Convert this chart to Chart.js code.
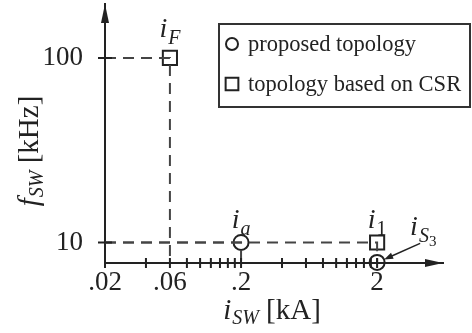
<!DOCTYPE html>
<html>
<head>
<meta charset="utf-8">
<script src="https://cdn.jsdelivr.net/npm/chart.js@4/dist/chart.umd.min.js"></script>
<style>
  html, body { margin: 0; padding: 0; background: #fff; }
  #wrap { width: 472px; height: 333px; }
</style>
</head>
<body>
<div id="wrap"><canvas id="chart"></canvas></div>
<script>
// operating points: switched current i_SW [kA] vs switching frequency f_SW [kHz]
const pointSubs = ['F', 'a', '1', 'S'];
const pointSubSubs = ['', '', '', '3'];
const currents = [0.06, 0.2, 2, 2];
const freqs = [100, 10, 10, 7.8];
const topology = ['csr', 'proposed', 'csr', 'proposed'];
const guided = [true, true, true, false];

const legendNames = ['proposed topology', 'topology based on CSR'];
const xLabeled = [0.02, 0.06, 0.2, 2];
const xMinor = [0.04, 0.08, 0.1, 0.12, 0.14, 0.16, 0.18, 0.4, 0.6, 0.8, 1, 1.2, 1.4, 1.6, 1.8];
const yLabeled = [10, 100];

const X_MIN = 0.02, X_MAX = 6.1, Y_MIN = 7.74, Y_MAX = 196;
const INK = '#222';
const SERIF = '"Liberation Serif", "Times New Roman", serif';
const roman = s => `${s}px ${SERIF}`;
const italic = s => `italic ${s}px ${SERIF}`;

// label placement around each point: dx to label centre (or left edge), dy to baseline
const labelPlace = [
  { dx: 0, dy: -21, align: 'center' },
  { dx: 0, dy: -14, align: 'center' },
  { dx: 0, dy: -14, align: 'center' },
  { dx: 33, dy: -27, align: 'left' },
];

function drawRich(ctx, parts, x, y, align) {
  let w = 0;
  parts.forEach(p => { ctx.font = p.font; p.w = ctx.measureText(p.t).width; w += p.w + (p.kern || 0); });
  let cx = align === 'center' ? x - w / 2 : x;
  ctx.textAlign = 'left';
  ctx.textBaseline = 'alphabetic';
  parts.forEach(p => {
    ctx.font = p.font;
    ctx.fillText(p.t, cx + (p.kern || 0), y + (p.dy || 0));
    cx += p.w + (p.kern || 0);
  });
}

function pts(kind) {
  return currents.map((x, i) => ({ x, y: freqs[i], k: topology[i] })).filter(p => p.k === kind);
}

const guideSets = currents.map((x, i) => guided[i] ? {
  label: '',
  data: [{ x: X_MIN, y: freqs[i] }, { x, y: freqs[i] }, { x, y: Y_MIN }],
  showLine: true,
  borderColor: '#444',
  borderWidth: 2,
  borderDash: [11, 7],
  pointRadius: 0,
} : null).filter(Boolean);

const markerSets = [
  {
    label: legendNames[0],
    data: pts('proposed'),
    pointStyle: 'circle',
    pointRadius: 7.5,
    pointBorderWidth: 2,
    borderColor: INK,
    backgroundColor: 'rgba(0,0,0,0)',
  },
  {
    label: legendNames[1],
    data: pts('csr'),
    pointStyle: 'rect',
    pointRadius: 10,
    pointBorderWidth: 2,
    borderColor: INK,
    backgroundColor: 'rgba(0,0,0,0)',
  },
];

function arrowHead(ctx, x, y, ang, len, half) {
  ctx.save();
  ctx.translate(x, y);
  ctx.rotate(ang);
  ctx.beginPath();
  ctx.moveTo(0, 0);
  ctx.lineTo(-len, -half);
  ctx.lineTo(-len, half);
  ctx.closePath();
  ctx.fill();
  ctx.restore();
}

const decor = {
  id: 'decor',
  afterDraw(chart) {
    const { ctx, chartArea: a, scales: { x, y } } = chart;
    ctx.save();
    ctx.strokeStyle = INK;
    ctx.fillStyle = INK;
    ctx.lineWidth = 2;

    // tick marks crossing the axes
    ctx.beginPath();
    x.ticks.forEach(t => {
      const px = x.getPixelForValue(t.value);
      ctx.moveTo(px, a.bottom - 5);
      ctx.lineTo(px, a.bottom + 5);
    });
    y.ticks.forEach(t => {
      const py = y.getPixelForValue(t.value);
      ctx.moveTo(a.left - 7, py);
      ctx.lineTo(a.left + 7, py);
    });
    ctx.stroke();

    // axis arrows
    arrowHead(ctx, a.left, a.top, -Math.PI / 2, 19, 4);
    arrowHead(ctx, a.right, a.bottom, 0, 18, 4);

    // point labels
    currents.forEach((cv, i) => {
      const px = x.getPixelForValue(cv), py = y.getPixelForValue(freqs[i]);
      const pl = labelPlace[i];
      const sub = pointSubs[i];
      const parts = [
        { t: 'i', font: italic(28) },
        { t: sub, font: /\d/.test(sub) ? roman(20) : italic(20), dy: 7, kern: 1 },
      ];
      if (pointSubSubs[i]) parts.push({ t: pointSubSubs[i], font: roman(15), dy: 11 });
      drawRich(ctx, parts, px + pl.dx, py + pl.dy, pl.align);
    });

    // pointer from the i_S3 label to its marker
    const ix = currents.length - 1;
    const sx = x.getPixelForValue(currents[ix]), sy = y.getPixelForValue(freqs[ix]);
    const x0 = sx + 43, y0 = sy - 19, x1 = sx + 7, y1 = sy - 3;
    ctx.lineWidth = 1.5;
    ctx.beginPath();
    ctx.moveTo(x0, y0);
    ctx.lineTo(x1 + 6, y1 - 2.6);
    ctx.stroke();
    arrowHead(ctx, x1, y1, Math.atan2(y1 - y0, x1 - x0), 9, 3.2);

    // axis titles
    drawRich(ctx, [
      { t: 'i', font: italic(29) },
      { t: 'SW', font: italic(20), dy: 5, kern: 1 },
      { t: ' [kA]', font: roman(29) },
    ], (a.left + a.right) / 2 - 2, 319, 'center');

    ctx.save();
    ctx.translate(38, 151);
    ctx.rotate(-Math.PI / 2);
    drawRich(ctx, [
      { t: 'f', font: italic(29) },
      { t: 'SW', font: italic(20), dy: 5, kern: 1 },
      { t: ' [kHz]', font: roman(29) },
    ], 0, 0, 'center');
    ctx.restore();

    // legend box
    const bx = 219, by = 24, bw = 251, bh = 83;
    ctx.lineWidth = 2;
    ctx.strokeStyle = '#333';
    ctx.strokeRect(bx, by, bw, bh);
    ctx.textBaseline = 'alphabetic';
    ctx.textAlign = 'left';
    markerSets.forEach((ds, k) => {
      const ry = by + 20 + k * 40;
      ctx.strokeStyle = INK;
      ctx.fillStyle = 'rgba(0,0,0,0)';
      Chart.helpers.drawPoint(ctx, {
        pointStyle: ds.pointStyle,
        radius: ds.pointStyle === 'rect' ? 9 : 6,
        rotation: 0,
        borderWidth: 2.2,
      }, bx + 13, ry);
      ctx.fillStyle = INK;
      ctx.font = roman(22.5);
      ctx.fillText(ds.label, bx + 29, ry + 7);
    });
    ctx.restore();
  }
};

new Chart(document.getElementById('chart'), {
  type: 'scatter',
  data: { datasets: [...guideSets, ...markerSets] },
  options: {
    responsive: true,
    maintainAspectRatio: false,
    animation: false,
    clip: false,
    layout: { autoPadding: false, padding: { top: 4, right: 29, left: 0, bottom: 0 } },
    plugins: { legend: { display: false }, tooltip: { enabled: false } },
    scales: {
      x: {
        type: 'logarithmic',
        min: X_MIN,
        max: X_MAX,
        afterFit: s => { s.height = 70; s.paddingLeft = 0; s.paddingRight = 0; },
        afterBuildTicks: s => {
          s.ticks = [...xLabeled, ...xMinor].sort((p, q) => p - q).map(v => ({ value: v }));
        },
        // tick marks are drawn by the decor plugin; tickLength only offsets the labels
        grid: { display: false, drawTicks: true, tickLength: 4 },
        border: { display: true, color: INK, width: 2 },
        ticks: {
          autoSkip: false,
          maxRotation: 0,
          padding: 0,
          color: INK,
          font: { family: SERIF, size: 27 },
          callback: v => xLabeled.includes(v) ? String(v).replace(/^0/, '') : '',
        },
      },
      y: {
        type: 'logarithmic',
        min: Y_MIN,
        max: Y_MAX,
        afterFit: s => { s.width = 105; s.paddingTop = 0; s.paddingBottom = 0; },
        afterBuildTicks: s => { s.ticks = yLabeled.map(v => ({ value: v })); },
        grid: { display: false, drawTicks: true, tickLength: 19 },
        border: { display: true, color: INK, width: 2 },
        ticks: {
          padding: 3,
          color: INK,
          font: { family: SERIF, size: 27 },
          callback: v => yLabeled.includes(v) ? String(v) : '',
        },
      },
    },
  },
  plugins: [decor],
});
</script>
</body>
</html>
